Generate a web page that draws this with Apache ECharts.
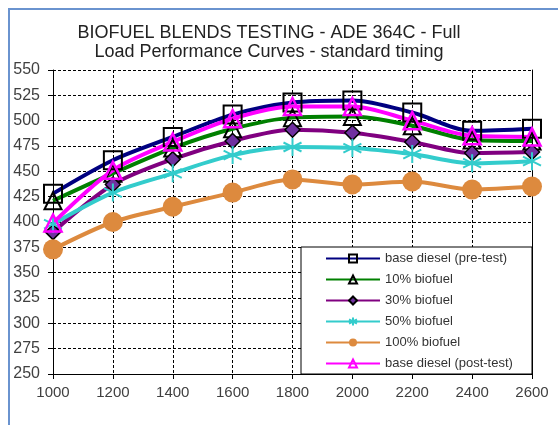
<!DOCTYPE html>
<html>
<head>
<meta charset="utf-8">
<script src="https://cdn.jsdelivr.net/npm/echarts@6/dist/echarts.min.js"></script>
<style>
html,body{margin:0;padding:0;background:#fff;}
#chart{width:558px;height:425px;}
</style>
</head>
<body>
<div id="chart"></div>
<script>
const speeds = [1000, 1200, 1400, 1600, 1800, 2000, 2200, 2400, 2600];
const basePreTest = [428, 461, 484, 506, 518, 520, 508, 490, 492];
const biofuel10 = [421, 448, 473, 492, 503, 504, 495, 481, 480];
const biofuel30 = [390, 437, 462, 480, 491, 488, 479, 468, 469];
const biofuel50 = [398, 429, 448, 466, 474, 473, 467, 458, 460];
const biofuel100 = [373, 400, 415, 429, 442, 437, 440, 432, 435];
const basePostTest = [399, 451, 479, 502, 514, 514, 500, 485, 484];
const seriesNames = ['base diesel (pre-test)', '10% biofuel', '30% biofuel', '50% biofuel', '100% biofuel', 'base diesel (post-test)'];
const titleLines = ['BIOFUEL BLENDS TESTING - ADE 364C - Full', 'Load Performance Curves - standard timing'];

const pairs = arr => arr.map((v, i) => [speeds[i], v]);
const asterisk = 'path://M10,0 L10,20 M1.34,5 L18.66,15 M1.34,15 L18.66,5';
const FONT = 'Liberation Sans, Arial, sans-serif';

const chart = echarts.init(document.getElementById('chart'), null, {renderer: 'canvas'});

function mk(name, data, lineColor, symbol, size, itemStyle) {
  return {
    name: name, type: 'line', data: pairs(data), smooth: 0.3,
    symbol: symbol, symbolSize: size, showSymbol: true,
    lineStyle: {color: lineColor, width: 4},
    itemStyle: itemStyle,
    emphasis: {disabled: true},
    animation: false
  };
}

const option = {
  animation: false,
  title: {
    text: titleLines.join('\n'),
    left: 264, top: 19, textAlign: 'center',
    textStyle: {fontFamily: FONT, fontSize: 18, fontWeight: 'normal', color: '#222', lineHeight: 19}
  },
  graphic: [
    {type: 'rect', shape: {x: 9, y: 9, width: 600, height: 500}, style: {fill: 'none', stroke: '#6a93cf', lineWidth: 2}, z: 100, silent: true},
    {type: 'rect', shape: {x: 301, y: 247, width: 231, height: 127}, style: {fill: '#fff', stroke: '#000', lineWidth: 1}, z: 5, silent: true}
  ],
  legend: {
    orient: 'vertical', left: 320, top: 247, itemWidth: 54, itemHeight: 10, itemGap: 8,
    z: 10,
    textStyle: {fontFamily: FONT, fontSize: 13, color: '#333'},
    data: seriesNames
  },
  grid: {left: 53, right: 26, top: 70, bottom: 51, containLabel: false},
  xAxis: {
    type: 'value', min: 1000, max: 2600, interval: 200,
    axisLine: {show: true, onZero: false, lineStyle: {color: '#000', width: 1}},
    axisTick: {show: true, length: 5, lineStyle: {color: '#000'}},
    axisLabel: {fontFamily: FONT, fontSize: 15, color: '#404040', margin: 11, formatter: v => String(v)},
    splitLine: {show: true, lineStyle: {color: '#000', type: [3, 2], width: 1}}
  },
  yAxis: [{
    type: 'value', min: 250, max: 550, interval: 25,
    axisLine: {show: true, onZero: false, lineStyle: {color: '#000', width: 1}},
    axisTick: {show: true, length: 5, lineStyle: {color: '#000'}},
    axisLabel: {fontFamily: FONT, fontSize: 16, color: '#404040', margin: 13, formatter: v => String(v)},
    splitLine: {show: true, lineStyle: {color: '#000', type: [3, 2], width: 1}}
  }, {
    type: 'value', min: 250, max: 550, interval: 25, position: 'right',
    axisLine: {show: true, lineStyle: {color: '#000', width: 1}},
    axisTick: {show: false}, axisLabel: {show: false}, splitLine: {show: false}
  }],
  series: [
    mk(seriesNames[0], basePreTest, '#000080', 'rect', 18, {color: 'rgba(0,0,0,0)', borderColor: '#000', borderWidth: 2}),
    mk(seriesNames[1], biofuel10, '#008000', 'triangle', 17, {color: 'rgba(0,0,0,0)', borderColor: '#000', borderWidth: 2}),
    mk(seriesNames[2], biofuel30, '#800080', 'diamond', 15, {color: '#7030a0', borderColor: '#000', borderWidth: 1.5}),
    mk(seriesNames[3], biofuel50, '#33cccc', asterisk, 18, {color: 'rgba(0,0,0,0)', borderColor: '#33cccc', borderWidth: 2}),
    mk(seriesNames[4], biofuel100, '#dd8a3e', 'circle', 20, {color: '#dd8a3e', borderColor: '#dd8a3e', borderWidth: 0}),
    mk(seriesNames[5], basePostTest, '#ff00ff', 'triangle', 17, {color: 'rgba(0,0,0,0)', borderColor: '#ff00ff', borderWidth: 2.5})
  ]
};
chart.setOption(option);
</script>
</body>
</html>
